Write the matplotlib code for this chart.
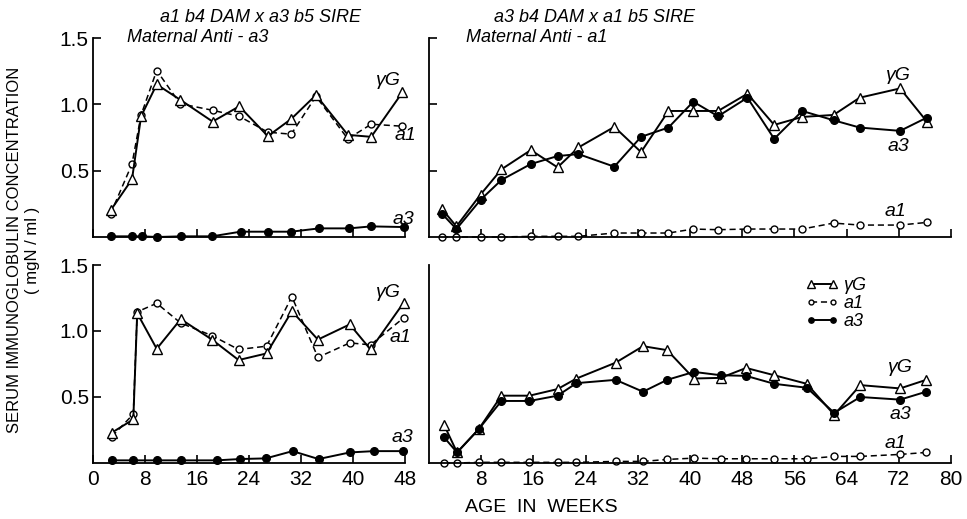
import matplotlib
matplotlib.use("Agg")
import matplotlib.pyplot as plt

plt.rcParams['font.family'] = ['Liberation Sans', 'DejaVu Sans']

# ---- data (weeks, mgN/ml) ----
# top left: a1b4 dam x a3b5 sire
tl_wk = [2.7, 6.0, 7.4, 9.8, 13.4, 18.4, 22.5, 26.9, 30.5, 34.3, 39.2, 42.8, 47.6]
tl_g = [0.20, 0.435, 0.91, 1.15, 1.035, 0.87, 0.985, 0.76, 0.89, 1.07, 0.77, 0.755, 1.09]
tl_a1 = [0.175, 0.55, 0.92, 1.255, 1.005, 0.955, 0.91, 0.79, 0.775, 1.06, 0.74, 0.85, 0.835]
tl_a3_wk = [2.7, 6.0, 7.5, 9.9, 13.6, 18.3, 22.7, 26.9, 30.5, 34.8, 39.4, 42.8, 47.8]
tl_a3 = [0.005, 0.005, 0.005, 0.0, 0.005, 0.005, 0.04, 0.04, 0.04, 0.065, 0.065, 0.08, 0.075]

# bottom left
bl_wk = [2.9, 6.2, 6.8, 9.8, 13.5, 18.3, 22.4, 26.7, 30.6, 34.6, 39.5, 42.7, 47.8]
bl_g = [0.23, 0.33, 1.135, 0.865, 1.09, 0.935, 0.78, 0.83, 1.15, 0.935, 1.05, 0.86, 1.215]
bl_a1 = [0.20, 0.37, 1.145, 1.21, 1.06, 0.965, 0.86, 0.885, 1.26, 0.80, 0.91, 0.895, 1.10]
bl_a3_wk = [2.9, 6.2, 9.8, 13.5, 19.0, 22.6, 26.6, 30.7, 34.7, 39.5, 43.2, 47.7]
bl_a3 = [0.02, 0.02, 0.02, 0.02, 0.02, 0.03, 0.035, 0.09, 0.03, 0.08, 0.09, 0.09]

# top right: a3b4 dam x a1b5 sire
tr_wk = [2.0, 4.2, 7.9, 11.1, 15.6, 19.7, 22.9, 28.4, 32.5, 36.7, 40.5, 44.3,
         48.8, 52.9, 57.2, 62.0, 66.0, 72.2, 76.3]
tr_g = [0.21, 0.08, 0.32, 0.51, 0.655, 0.525, 0.675, 0.83, 0.64, 0.95, 0.95, 0.95,
        1.08, 0.845, 0.905, 0.92, 1.05, 1.12, 0.87]
tr_a3 = [0.175, 0.06, 0.28, 0.43, 0.55, 0.61, 0.625, 0.53, 0.755, 0.825, 1.02, 0.91,
         1.05, 0.74, 0.95, 0.88, 0.825, 0.80, 0.90]
tr_a1 = [0.0, 0.0, 0.0, 0.0, 0.005, 0.005, 0.005, 0.03, 0.03, 0.03, 0.06, 0.055,
         0.06, 0.06, 0.06, 0.105, 0.09, 0.09, 0.11]

# bottom right
br_wk = [2.3, 4.3, 7.6, 11.1, 15.4, 19.7, 22.6, 28.6, 32.8, 36.5, 40.6, 44.7,
         48.6, 52.9, 57.9, 62.1, 66.1, 72.2, 76.2]
br_g = [0.29, 0.08, 0.255, 0.51, 0.51, 0.56, 0.64, 0.76, 0.885, 0.855, 0.64, 0.645,
        0.72, 0.665, 0.60, 0.365, 0.59, 0.565, 0.63]
br_a3 = [0.195, 0.08, 0.255, 0.47, 0.47, 0.51, 0.605, 0.63, 0.54, 0.63, 0.69, 0.665,
         0.66, 0.60, 0.57, 0.38, 0.50, 0.48, 0.54]
br_a1 = [0.0, 0.0, 0.005, 0.005, 0.005, 0.005, 0.005, 0.012, 0.012, 0.027, 0.037, 0.032,
         0.032, 0.032, 0.032, 0.05, 0.05, 0.065, 0.08]

left_ticks = [0, 8, 16, 24, 32, 40, 48]
right_ticks = [8, 16, 24, 32, 40, 48, 56, 64, 72, 80]
y_ticks = [0.5, 1.0, 1.5]

# line styles
g_style = dict(color='black', lw=1.4, marker='^', ms=7.5, mfc='white', mec='black', mew=1.0, clip_on=False)
a1_style = dict(color='black', lw=1.1, ls=(0, (4, 2.5)), marker='o', ms=5, mfc='white', mec='black', mew=1.0, clip_on=False)
a3_style = dict(color='black', lw=1.4, marker='o', ms=5.5, mfc='black', mec='black', clip_on=False)
lab = dict(fontsize=14, fontstyle='italic', ha='center', va='center')

fig = plt.figure(figsize=(9.67, 5.19), dpi=100)


def px_axes(l, t, r, b):
    return fig.add_axes([l / 967, 1 - b / 519, (r - l) / 967, (b - t) / 519])


def setup(ax, xmax, xticks, xlabels, ylabels, yticks=True):
    ax.set_xlim(0, xmax)
    ax.set_ylim(0, 1.5)
    ax.spines['top'].set_visible(False)
    ax.spines['right'].set_visible(False)
    for s in ['left', 'bottom']:
        ax.spines[s].set_linewidth(1.3)
    ax.set_xticks(xticks)
    ax.set_yticks(y_ticks if yticks else [])
    ax.tick_params(direction='in', length=6, width=1.2, labelsize=15)
    ax.tick_params(axis='x', pad=5, labelbottom=xlabels)
    ax.tick_params(axis='y', pad=3, labelleft=ylabels)
    ax.yaxis.set_major_formatter(plt.FormatStrFormatter('%.1f'))


ax1 = px_axes(93, 38, 405, 237)
ax2 = px_axes(429, 38, 951, 237)
ax3 = px_axes(93, 265, 405, 463)
ax4 = px_axes(429, 265, 951, 463)

setup(ax1, 48, left_ticks, False, True)
setup(ax2, 80, right_ticks, False, False)
setup(ax3, 48, left_ticks, True, True)
setup(ax4, 80, right_ticks, True, False, yticks=False)

# top left
ax1.plot(tl_wk, tl_a1, **a1_style)
ax1.plot(tl_wk, tl_g, **g_style)
ax1.plot(tl_a3_wk, tl_a3, **a3_style)
ax1.text(45.4, 1.18, 'γG', **lab)
ax1.text(48.0, 0.765, 'a1', **lab)
ax1.text(47.7, 0.13, 'a3', **lab)

# top right
ax2.plot(tr_wk, tr_a1, **a1_style)
ax2.plot(tr_wk, tr_g, **g_style)
ax2.plot(tr_wk, tr_a3, **a3_style)
ax2.text(72.0, 1.22, 'γG', **lab)
ax2.text(72.0, 0.68, 'a3', **lab)
ax2.text(71.5, 0.19, 'a1', **lab)

# bottom left
ax3.plot(bl_wk, bl_a1, **a1_style)
ax3.plot(bl_wk, bl_g, **g_style)
ax3.plot(bl_a3_wk, bl_a3, **a3_style)
ax3.text(45.5, 1.29, 'γG', **lab)
ax3.text(47.3, 0.95, 'a1', **lab)
ax3.text(47.6, 0.19, 'a3', **lab)

# bottom right
l_a1, = ax4.plot(br_wk, br_a1, **a1_style)
l_g, = ax4.plot(br_wk, br_g, **g_style)
l_a3, = ax4.plot(br_wk, br_a3, **a3_style)
ax4.text(72.3, 0.72, 'γG', **lab)
ax4.text(72.3, 0.37, 'a3', **lab)
ax4.text(71.5, 0.145, 'a1', **lab)
ax4.legend([l_g, l_a1, l_a3], ['γG', 'a1', 'a3'], loc='upper left',
           bbox_to_anchor=(0.69, 1.02), frameon=False, numpoints=2,
           handlelength=1.8, handletextpad=0.3, labelspacing=0.05,
           markerscale=0.7, prop={'style': 'italic', 'size': 13})

# titles and axis labels
fig.text(260 / 967, 1 - 18 / 519, 'a1 b4 DAM x a3 b5 SIRE', fontsize=13, fontstyle='italic', ha='center', va='center')
fig.text(198 / 967, 1 - 37 / 519, 'Maternal Anti - a3', fontsize=13, fontstyle='italic', ha='center', va='center')
fig.text(594 / 967, 1 - 17 / 519, 'a3 b4 DAM x a1 b5 SIRE', fontsize=13, fontstyle='italic', ha='center', va='center')
fig.text(537 / 967, 1 - 38 / 519, 'Maternal Anti - a1', fontsize=13, fontstyle='italic', ha='center', va='center')
fig.text(15 / 967, 1 - 250 / 519, 'SERUM IMMUNOGLOBULIN CONCENTRATION', fontsize=12,
         rotation=90, ha='center', va='center')
fig.text(33 / 967, 1 - 250 / 519, '( mgN / ml )', fontsize=12, rotation=90, ha='center', va='center')
fig.text(541 / 967, 1 - 508 / 519, 'AGE  IN  WEEKS', fontsize=14, ha='center', va='center')

fig.savefig('out.png', dpi=100)
